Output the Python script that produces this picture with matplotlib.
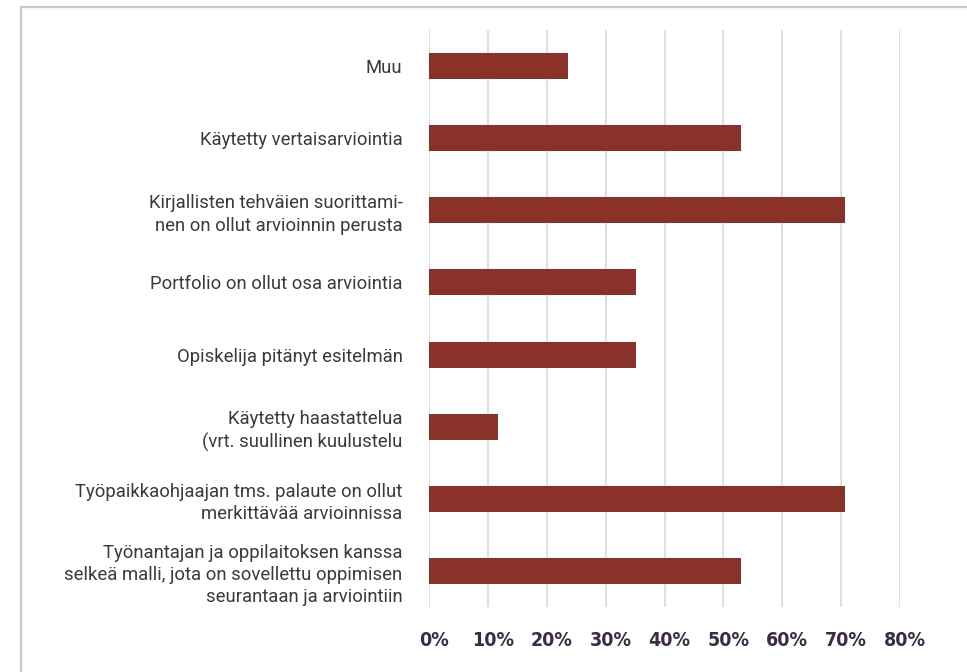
import matplotlib.pyplot as plt
import matplotlib.transforms as mtransforms
from matplotlib.lines import Line2D

# Kategoriat ylhäältä alas
kategoriat = [
    "Muu",
    "Käytetty vertaisarviointia",
    "Kirjallisten tehväien suorittami-\nnen on ollut arvioinnin perusta",
    "Portfolio on ollut osa arviointia",
    "Opiskelija pitänyt esitelmän",
    "Käytetty haastattelua\n(vrt. suullinen kuulustelu",
    "Työpaikkaohjaajan tms. palaute on ollut\nmerkittävää arvioinnissa",
    "Työnantajan ja oppilaitoksen kanssa\nselkeä malli, jota on sovellettu oppimisen\nseurantaan ja arviointiin",
]
osuudet = [23.6, 53.0, 70.6, 35.1, 35.1, 11.7, 70.6, 53.0]
x_tikit = [0, 10, 20, 30, 40, 50, 60, 70, 80]
x_tikkitekstit = [f"{t}%" for t in x_tikit]

fig = plt.figure(figsize=(9.67, 6.72), dpi=100)
ax = fig.add_axes([429 / 967, 1 - 607 / 672, (900 - 429) / 967, (607 - 30) / 672])

y = list(range(len(kategoriat)))
ax.barh(y, osuudet, height=0.36, color="#8a3129", zorder=3)

ax.set_ylim(len(kategoriat) - 0.5, -0.5)
ax.set_xlim(0, 80)
ax.set_yticks(y)
ax.set_yticklabels(kategoriat, family=["Roboto", "DejaVu Sans"],
                   fontsize=13.3, color="#3a3a3a", linespacing=1.3)
ax.set_xticks(x_tikit)
ax.set_xticklabels(x_tikkitekstit, family=["DejaVu Sans"], fontstretch="condensed",
                   fontweight="bold", fontsize=14, color="#3c2b47")
ax.tick_params(axis="y", length=0, pad=19)
ax.tick_params(axis="x", length=0, pad=17)

# Tikkitekstit hieman oikealle
siirto = mtransforms.ScaledTranslation(5 / 100, 0, fig.dpi_scale_trans)
for lbl in ax.get_xticklabels():
    lbl.set_transform(lbl.get_transform() + siirto)

ax.grid(axis="x", color="#e0e0e0", linewidth=1.5, zorder=0)
ax.grid(axis="y", visible=False)
for s in ax.spines.values():
    s.set_visible(False)

# Kehys kuvan reunassa
fig.add_artist(Line2D([21 / 967, 1], [1 - 7 / 672, 1 - 7 / 672],
                      transform=fig.transFigure, color="#c8c8c8", linewidth=1.6))
fig.add_artist(Line2D([21 / 967, 21 / 967], [0, 1 - 7 / 672],
                      transform=fig.transFigure, color="#c8c8c8", linewidth=1.6))

fig.savefig("out.png", dpi=100)
